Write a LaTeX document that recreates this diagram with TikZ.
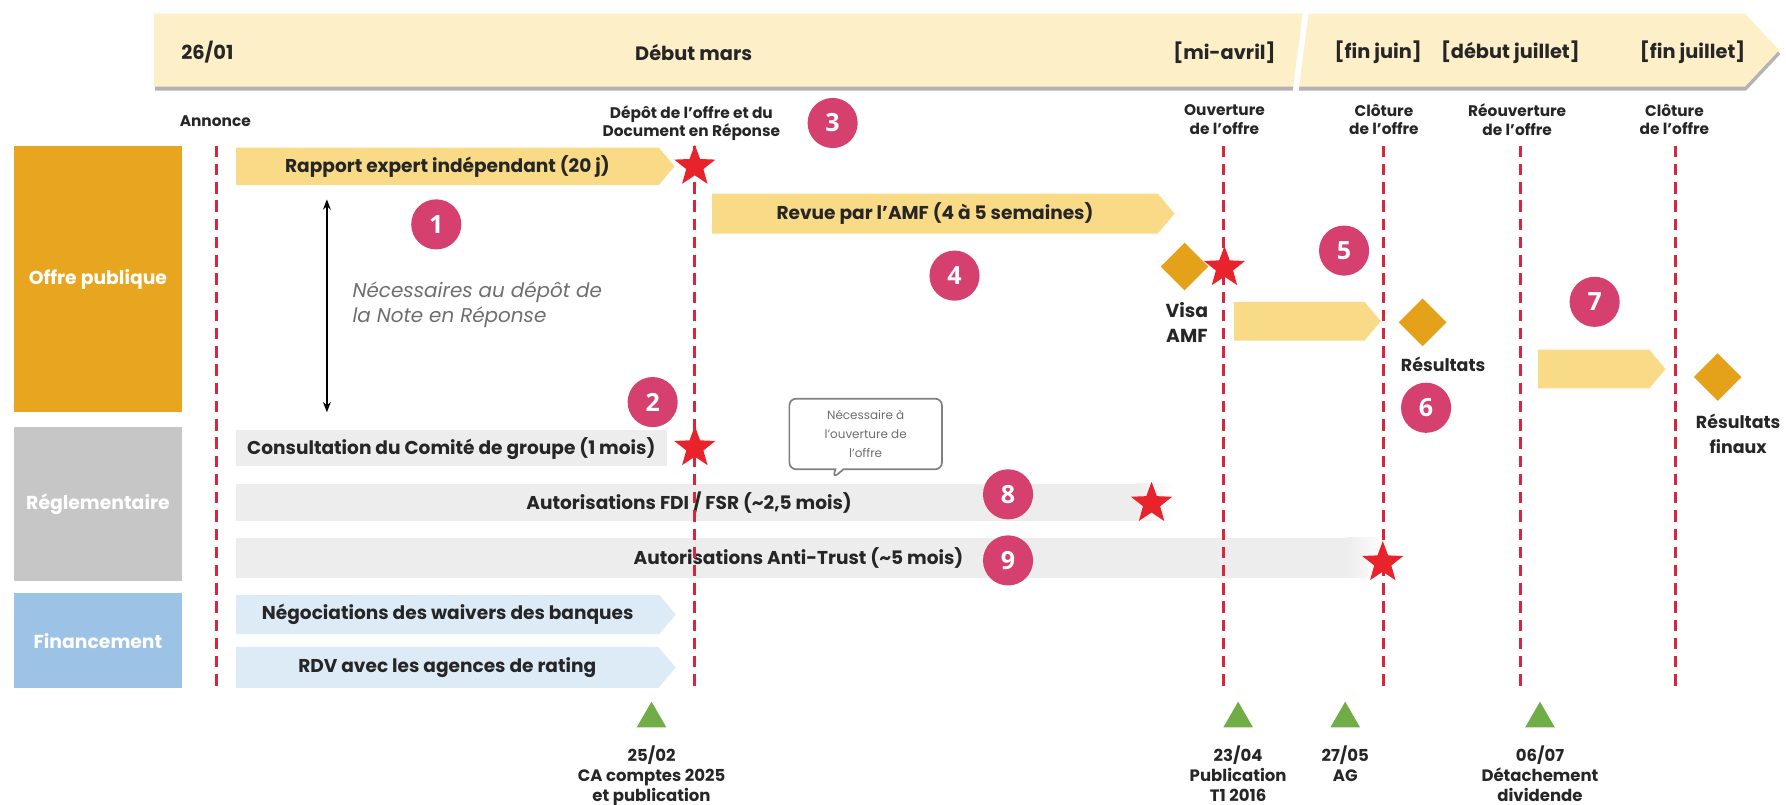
\documentclass[tikz,border=0pt]{standalone}
\usepackage{fontspec}
\setmainfont{Poppins}
\newfontfamily\numfont{Open Sans}
\usetikzlibrary{shapes.geometric,shapes.symbols,shapes.callouts,arrows.meta,shadows}

\definecolor{frise}{HTML}{FDF0C9}
\definecolor{boxOrange}{HTML}{E8A51F}
\definecolor{boxGray}{HTML}{C6C6C6}
\definecolor{boxBlue}{HTML}{9CC2E5}
\definecolor{barYellow}{HTML}{F9DA87}
\definecolor{barGray}{HTML}{EDEDED}
\definecolor{barBlue}{HTML}{DDEBF7}
\definecolor{lineRed}{HTML}{D7263D}
\definecolor{starRed}{HTML}{E8232B}
\definecolor{diamOrange}{HTML}{E3A21A}
\definecolor{pinkDot}{HTML}{D6406F}
\definecolor{greenTri}{HTML}{70AD47}
\definecolor{textDark}{HTML}{262626}
\definecolor{textGray}{HTML}{6E6E6E}

\newcommand{\bannerfont}{\bfseries\fontsize{17}{19}\selectfont}
\newcommand{\barfont}{\bfseries\fontsize{16.3}{18}\selectfont}
\newcommand{\smallfont}{\bfseries\fontsize{13.5}{16}\selectfont}
\newcommand{\datefont}{\bfseries\fontsize{14.5}{17.2}\selectfont}
\newcommand{\catfont}{\bfseries\fontsize{16.5}{19}\selectfont}

\tikzset
{
	milestone/.style = {draw=lineRed, line width=2.6pt, dash pattern=on 10pt off 6pt},
	jalon/.style     = {star, star points=5, star point ratio=2.4, fill=starRed, minimum size=38pt, inner sep=0pt},
	losange/.style   = {diamond, fill=diamOrange, minimum width=42pt, minimum height=42pt, inner sep=0pt},
	pastille/.style  = {circle, fill=pinkDot, text=white, font=\numfont\bfseries\fontsize{22}{22}\selectfont, minimum size=44pt, inner sep=0pt},
	yellowbar/.style = {signal, signal to=east, signal pointer angle=100, fill=barYellow, minimum height=33pt, inner sep=0pt, font=\barfont, text=textDark, anchor=west},
	bluebar/.style   = {signal, signal to=east, signal pointer angle=100, fill=barBlue, minimum height=34pt, inner sep=0pt, font=\barfont, text=textDark, anchor=west},
	graybar/.style   = {rectangle, fill=barGray, minimum height=33pt, inner sep=0pt, font=\barfont, text=textDark, anchor=west},
	category/.style  = {rectangle, minimum width=148pt, inner sep=0pt, text=white, font=\catfont},
	toplabel/.style  = {font=\smallfont, align=center, text=textDark},
	datelabel/.style = {font=\datefont, align=center, text=textDark, anchor=north, inner sep=0pt},
	banneritem/.style= {font=\bannerfont, text=textDark},
	cadre/.style     = {regular polygon, regular polygon sides=3, fill=greenTri, minimum size=30pt, inner sep=0pt}
}

\begin{document}
\begin{tikzpicture}[x=1pt, y=-1pt]
\useasboundingbox (0,0) rectangle (1568,706);

% frise du haut
\fill[frise, drop shadow={opacity=0.6, fill=gray, shadow xshift=1pt, shadow yshift=-3.5pt}]
	(135,12) -- (1532,12) -- (1562,44) -- (1532,76) -- (135,76) -- cycle;
\draw[white, line width=5pt] (1147,6) -- (1137,84);

\node[banneritem] (d2601) at (182,46) {26/01};
\node[banneritem] (dmars) at (609,46) {Début mars};
\node[banneritem] (davril) at (1075,46) {[mi-avril]};
\node[banneritem] (djuin) at (1210,46) {[fin juin]};
\node[banneritem] (djuil) at (1326,46) {[début juillet]};
\node[banneritem] (dfjuil) at (1486,46) {[fin juillet]};

% libelles des jalons
\node[toplabel] (annonce) at (189,106) {Annonce};
\node[toplabel] (depot) at (607,108) {Dépôt de l'offre et du\\Document en Réponse};
\node[toplabel] (ouverture) at (1075,105) {Ouverture\\de l'offre};
\node[toplabel] (cloture) at (1215,105) {Clôture\\de l'offre};
\node[toplabel] (reouverture) at (1332,105) {Réouverture\\de l'offre};
\node[toplabel] (cloturefin) at (1470,105) {Clôture\\de l'offre};

% categories
\node[category, fill=boxOrange, minimum height=234pt] (offre) at (86,245) {Offre publique};
\node[category, fill=boxGray, minimum height=135pt] (regl) at (86,442.5) {Réglementaire};
\node[category, fill=boxBlue, minimum height=83pt] (fin) at (86,562.5) {Financement};

% barres
\node[yellowbar, minimum width=385pt] (rapport) at (207,146) {Rapport expert indépendant (20 j)};
\node[yellowbar, minimum width=406pt, minimum height=35pt] (revue) at (625,187.5) {Revue par l'AMF (4 à 5 semaines)};
\node[yellowbar, minimum width=129pt, minimum height=34pt] (ouvbar) at (1083,282) {};
\node[yellowbar, minimum width=112pt, minimum height=34pt] (reouvbar) at (1350,324) {};

\node[graybar, minimum width=378pt, minimum height=32pt] (consult) at (207,393.5) {Consultation du Comité de groupe (1 mois)};
\node[graybar, minimum width=790pt] (fdi) at (207,441) {};
\shade[left color=barGray, right color=white] (fdi.north east) rectangle ++(33,33);
\node[graybar, minimum width=975pt, minimum height=35pt] (antitrust) at (207,490) {};
\shade[left color=barGray, right color=white] (antitrust.north east) rectangle ++(35,35);
\node[font=\barfont, text=textDark] (fditext) at (605,441) {Autorisations FDI / FSR (\textasciitilde2,5 mois)};
\node[font=\barfont, text=textDark] (attext) at (701,490) {Autorisations Anti-Trust (\textasciitilde5 mois)};

\node[bluebar, minimum width=386pt] (nego) at (207,539.5) {Négociations des waivers des banques};
\node[bluebar, minimum width=386pt, minimum height=36pt] (rdv) at (207,586) {RDV avec les agences de rating};

% lignes pointillees
\coordinate (t1) at (190,128); \coordinate (b1) at (190,608);
\coordinate (t2) at (610,128); \coordinate (b2) at (610,608);
\coordinate (t3) at (1074,128); \coordinate (b3) at (1074,608);
\coordinate (t4) at (1215,128); \coordinate (b4) at (1215,608);
\coordinate (t5) at (1335,128); \coordinate (b5) at (1335,608);
\coordinate (t6) at (1471,128); \coordinate (b6) at (1471,608);
\draw[milestone] (t1) -- (b1);
\draw[milestone] (t2) -- (b2);
\draw[milestone] (t3) -- (b3);
\draw[milestone] (t4) -- (b4);
\draw[milestone] (t5) -- (b5);
\draw[milestone] (t6) -- (b6);

% fleche double
\coordinate (haut) at (287,175);
\coordinate (bas) at (287,362);
\draw[{Stealth[length=9pt]}-{Stealth[length=9pt]}, line width=1.8pt] (haut) -- (bas);
\node[anchor=west, align=left, text=textGray, font=\itshape\fontsize{17.5}{22}\selectfont] (necess) at (306,268) {Nécessaires au dépôt de\\la Note en Réponse};

% bulle
\node[rectangle callout, callout absolute pointer={(731,420)}, draw=gray, line width=1.5pt, fill=white, rounded corners=6pt,
	minimum width=134pt, minimum height=62pt, align=center, text=textGray, font=\fontsize{10.5}{17}\selectfont] (note) at (760,381)
	{Nécessaire à\\l'ouverture de\\l'offre};

% etoiles
\node[jalon] (s1) at (610,146) {};
\node[jalon] (s2) at (1075,235) {};
\node[jalon] (s3) at (610,393) {};
\node[jalon] (s4) at (1011,442) {};
\node[jalon] (s5) at (1214,494) {};

% losanges
\node[losange] (visa) at (1040,234) {};
\node[losange] (res) at (1249,283) {};
\node[losange] (resfin) at (1508,331) {};
\node[font=\bfseries\fontsize{16.5}{22}\selectfont, align=center, text=textDark] (visatext) at (1042,283) {Visa\\AMF};
\node[font=\bfseries\fontsize{15.3}{22}\selectfont, text=textDark] (restext) at (1267,320) {Résultats};
\node[font=\bfseries\fontsize{15.3}{22}\selectfont, align=center, text=textDark] (resfintext) at (1526,381) {Résultats\\finaux};

% pastilles
\node[pastille] (p1) at (383,197) {1};
\node[pastille] (p2) at (573,353) {2};
\node[pastille] (p3) at (731,108) {3};
\node[pastille] (p4) at (838,242) {4};
\node[pastille] (p5) at (1180,220) {5};
\node[pastille] (p6) at (1252,358) {6};
\node[pastille] (p7) at (1400,265) {7};
\node[pastille] (p8) at (885,434) {8};
\node[pastille] (p9) at (885,492) {9};

% evenements du bas
\node[cadre] (e1) at (572,631) {};
\node[cadre] (e2) at (1087,631) {};
\node[cadre] (e3) at (1181,631) {};
\node[cadre] (e4) at (1352,631) {};
\node[datelabel] (l1) at (572,655) {25/02\\CA comptes 2025\\et publication};
\node[datelabel] (l2) at (1087,655) {23/04\\Publication\\T1 2016};
\node[datelabel] (l3) at (1181,655) {27/05\\AG};
\node[datelabel] (l4) at (1352,655) {06/07\\Détachement\\dividende};
\end{tikzpicture}
\end{document}
